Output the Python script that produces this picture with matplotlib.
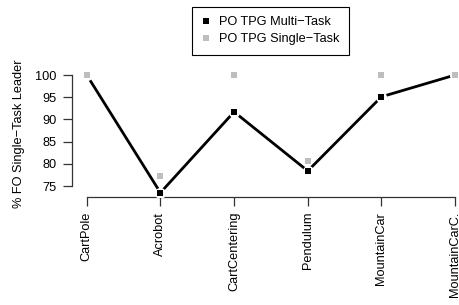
import matplotlib
matplotlib.use("Agg")
import matplotlib.pyplot as plt

plt.rcParams['font.family'] = ['Liberation Sans', 'DejaVu Sans']

tareas = ['CartPole', 'Acrobot', 'CartCentering', 'Pendulum', 'MountainCar', 'MountainCarC.']
multi = [100, 73.5, 91.7, 78.4, 95.1, 100]
single = [100, 77.2, 100, 80.6, 100, 100]
yticks = [75, 80, 85, 90, 95, 100]

fs = 9.2
gris = '#BEBEBE'
eje = '#333333'

fig = plt.figure(figsize=(4.59, 3.05), dpi=100)
ax = fig.add_axes([0.1569, 0.3528, 0.8667, 0.4167])

x = list(range(len(tareas)))
# linea tipo "b" de R: la linea se corta alrededor de cada punto
ax.plot(x, multi, color='black', lw=2, zorder=2, solid_capstyle='butt')
ax.plot(x, multi, 'o', color='white', ms=8, mew=0, zorder=3)
ax.plot(x, multi, 's', color='black', ms=4.2, mew=0, zorder=4, label='PO TPG Multi\u2212Task')
ax.plot(x, single, 's', color=gris, ms=4.2, mew=0, zorder=5, label='PO TPG Single\u2212Task')

ax.set_xlim(-0.2, 5.2)
ax.set_ylim(72.44, 101.06)
ax.set_yticks(yticks)
ax.set_xticks(x)
ax.set_xticklabels(tareas, rotation=90, fontsize=fs)
ax.set_yticklabels([str(v) for v in yticks], fontsize=fs)

for s in ['top', 'right']:
    ax.spines[s].set_visible(False)
ax.spines['left'].set_bounds(75, 100)
ax.spines['bottom'].set_bounds(0, 5)
for s in ['left', 'bottom']:
    ax.spines[s].set_color(eje)
    ax.spines[s].set_linewidth(0.9)
ax.tick_params(axis='both', direction='out', length=6.5, width=0.9, color=eje)
ax.tick_params(axis='y', pad=4.5)
ax.tick_params(axis='x', pad=4)

ax.set_ylabel('% FO Single\u2212Task Leader', fontsize=fs)
ax.yaxis.set_label_coords(-0.117, 0.5)

leg = fig.legend(loc='upper center', bbox_to_anchor=(0.589, 0.978), fontsize=fs,
                 frameon=True, fancybox=False, edgecolor='black', framealpha=1,
                 handlelength=0.7, handletextpad=0.7, borderpad=0.75, labelspacing=0.4,
                 borderaxespad=0)
leg.get_frame().set_linewidth(0.8)

fig.savefig('out.png', dpi=100)
